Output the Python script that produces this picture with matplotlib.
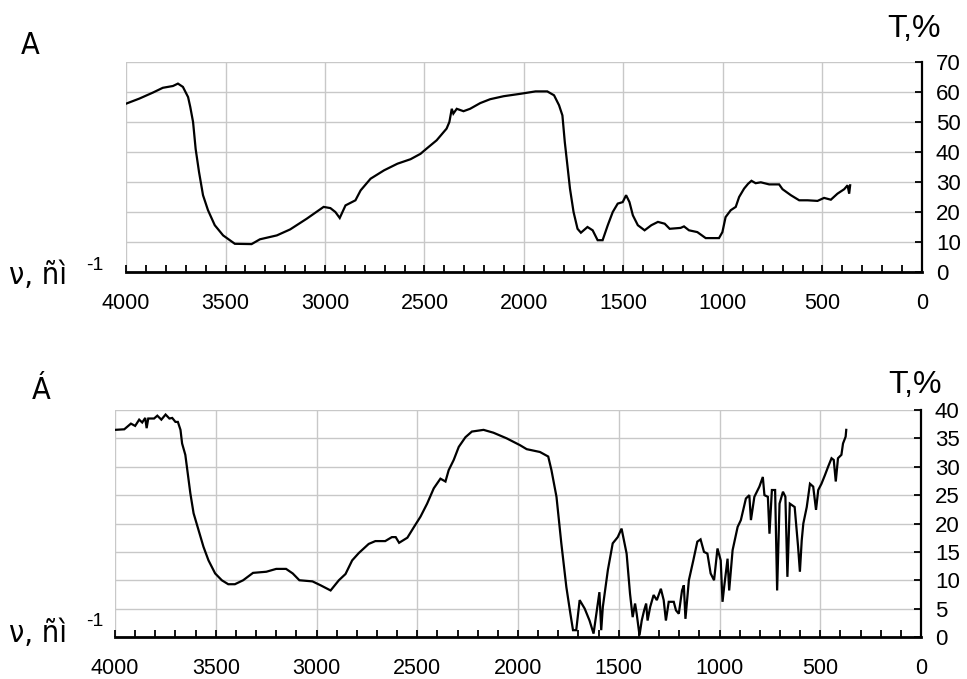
"""
Two IR transmission spectra (A, Á) stacked, wavenumber axis reversed.
"""
import matplotlib
matplotlib.use("Agg")
import matplotlib.pyplot as plt
from matplotlib import font_manager as fm
from matplotlib.ticker import MultipleLocator

# spectrum A (top)
wn_a = [4000, 3933, 3865, 3815, 3764, 3739, 3714, 3688, 3677, 3663,
        3650, 3633, 3613, 3588, 3554, 3512, 3453, 3369, 3327, 3242,
        3175, 3091, 3007, 2973, 2948, 2926, 2897, 2847, 2821, 2771,
        2703, 2636, 2570, 2520, 2490, 2439, 2389, 2375, 2363, 2355,
        2338, 2304, 2271, 2220, 2170, 2102, 2018, 1942, 1883, 1849,
        1824, 1807, 1795, 1782, 1769, 1751, 1731, 1714, 1681, 1655,
        1630, 1605, 1579, 1554, 1529, 1504, 1487, 1470, 1453, 1428,
        1394, 1360, 1327, 1293, 1268, 1213, 1196, 1171, 1129, 1087,
        1020, 1003, 987, 961, 936, 919, 894, 874, 857, 836,
        810, 768, 718, 701, 659, 617, 575, 525, 492, 458,
        425, 391, 374, 366, 361]
t_a = [56.1, 57.8, 59.8, 61.4, 62.0, 62.8, 61.7, 58.3, 55.0, 50.0,
       41.0, 33.3, 25.6, 20.6, 15.6, 12.2, 9.4, 9.3, 10.9, 12.2,
       14.2, 17.8, 21.7, 21.3, 20.0, 18.0, 22.2, 23.9, 27.2, 31.1,
       33.9, 36.1, 37.6, 39.4, 41.1, 43.9, 47.8, 50.0, 54.4, 52.8,
       54.4, 53.6, 54.4, 56.3, 57.6, 58.6, 59.4, 60.2, 60.2, 58.9,
       55.6, 52.2, 43.3, 35.6, 27.8, 20.0, 14.4, 13.1, 15.0, 13.9,
       10.6, 10.6, 15.6, 20.0, 22.8, 23.3, 25.6, 23.3, 18.9, 15.6,
       13.9, 15.6, 16.7, 16.1, 14.4, 14.7, 15.2, 13.9, 13.3, 11.3,
       11.3, 13.3, 18.3, 20.6, 21.7, 25.0, 27.8, 29.4, 30.4, 29.6,
       29.9, 29.2, 29.2, 27.6, 25.6, 23.9, 23.9, 23.7, 24.7, 24.1,
       26.1, 27.6, 28.9, 26.1, 28.9]

# spectrum Á (bottom)
wn_b = [4000, 3954, 3921, 3900, 3880, 3865, 3850, 3843, 3835, 3806,
        3790, 3770, 3749, 3730, 3716, 3700, 3688, 3675, 3667, 3651,
        3639, 3626, 3610, 3585, 3561, 3536, 3503, 3470, 3438, 3405,
        3364, 3315, 3249, 3200, 3151, 3118, 3085, 3020, 2979, 2930,
        2889, 2856, 2823, 2790, 2741, 2708, 2659, 2626, 2607, 2590,
        2549, 2516, 2484, 2451, 2418, 2385, 2360, 2344, 2319, 2294,
        2261, 2229, 2171, 2122, 2056, 1990, 1957, 1891, 1850, 1834,
        1809, 1785, 1760, 1740, 1727, 1711, 1694, 1669, 1645, 1625,
        1604, 1596, 1587, 1579, 1554, 1530, 1505, 1486, 1461, 1444,
        1431, 1419, 1411, 1397, 1386, 1374, 1364, 1357, 1344, 1327,
        1311, 1291, 1277, 1266, 1252, 1227, 1216, 1202, 1186, 1177,
        1169, 1152, 1130, 1110, 1094, 1077, 1060, 1044, 1027, 1010,
        994, 985, 977, 960, 952, 935, 910, 894, 869, 852,
        844, 827, 802, 785, 777, 760, 752, 740, 724, 714,
        702, 685, 673, 663, 651, 627, 610, 601, 592, 584,
        567, 551, 535, 521, 510, 494, 477, 461, 444, 433,
        423, 412, 395, 387, 374, 371]
t_b = [36.5, 36.6, 37.6, 37.2, 38.3, 37.8, 38.6, 36.8, 38.5, 38.5,
       39.0, 38.3, 39.2, 38.5, 38.6, 37.9, 37.9, 36.5, 34.1, 32.1,
       28.8, 25.3, 21.8, 18.8, 15.9, 13.5, 11.2, 10.0, 9.3, 9.3,
       10.0, 11.3, 11.5, 12.0, 12.0, 11.2, 10.0, 9.8, 9.1, 8.2,
       10.0, 11.1, 13.5, 14.8, 16.4, 16.9, 16.9, 17.6, 17.6, 16.6,
       17.5, 19.4, 21.2, 23.5, 26.2, 27.9, 27.4, 29.4, 31.2, 33.5,
       35.2, 36.2, 36.5, 36.0, 35.0, 33.8, 33.1, 32.6, 31.8, 29.4,
       24.7, 16.5, 8.8, 4.1, 1.2, 1.2, 6.5, 5.0, 2.9, 0.6,
       5.9, 7.9, 1.2, 5.3, 11.8, 16.5, 17.6, 19.1, 14.7, 7.6,
       3.5, 5.9, 4.1, 0.3, 2.9, 4.7, 5.9, 2.9, 5.3, 7.4,
       6.5, 8.5, 6.5, 2.9, 6.2, 6.2, 4.7, 4.1, 8.2, 9.1,
       3.2, 10.0, 13.5, 16.8, 17.2, 15.0, 14.7, 11.2, 10.0, 15.6,
       13.5, 6.2, 8.8, 13.8, 8.2, 15.3, 19.4, 20.6, 24.4, 25.0,
       20.6, 24.7, 26.5, 28.2, 25.0, 24.7, 18.2, 25.9, 25.9, 8.2,
       23.5, 25.6, 24.7, 10.6, 23.5, 22.9, 15.9, 11.5, 17.0, 20.0,
       22.9, 27.0, 26.5, 22.4, 25.9, 27.0, 28.5, 30.0, 31.5, 31.2,
       27.4, 31.5, 32.1, 34.1, 35.3, 36.5]

x_ticks = [4000, 3500, 3000, 2500, 2000, 1500, 1000, 500, 0]
y_ticks_a = [0, 10, 20, 30, 40, 50, 60, 70]
y_ticks_b = [0, 5, 10, 15, 20, 25, 30, 35, 40]

names = {f.name for f in fm.fontManager.ttflist}
if "Liberation Sans Narrow" in names:
    narrow = dict(family=["Liberation Sans Narrow", "DejaVu Sans"])
else:
    narrow = dict(family=["DejaVu Sans"], stretch="condensed")
plt.rcParams["font.family"] = ["Liberation Sans", "DejaVu Sans"]

W, H = 967, 679
fig = plt.figure(figsize=(W / 100, H / 100), dpi=100)


def px_box(left, top, right, bottom):
    return [left / W, 1 - bottom / H, (right - left) / W, (bottom - top) / H]


def draw_panel(ax, wn, t, yticks):
    ax.plot(wn, t, color="black", lw=1.6, solid_joinstyle="miter")
    ax.set_xlim(4000, 0)
    ax.set_ylim(yticks[0], yticks[-1])
    ax.set_xticks(x_ticks)
    ax.xaxis.set_minor_locator(MultipleLocator(100))
    ax.set_yticks(yticks)
    ax.yaxis.tick_right()
    ax.grid(True, which="major", color="#c8c8c8", lw=1.0)
    ax.set_axisbelow(True)
    for side in ("left", "top"):
        ax.spines[side].set_visible(False)
    ax.spines["bottom"].set_linewidth(2.0)
    ax.spines["right"].set_linewidth(1.6)
    ax.tick_params(axis="x", which="both", direction="in", length=5,
                   width=1.3, pad=15, labelsize=15.5)
    ax.tick_params(axis="y", which="major", direction="in", length=5,
                   width=1.3, pad=10, labelsize=16)


ax_a = fig.add_axes(px_box(126, 62, 922, 272))
draw_panel(ax_a, wn_a, t_a, y_ticks_a)
ax_b = fig.add_axes(px_box(115, 410, 921, 637))
draw_panel(ax_b, wn_b, t_b, y_ticks_b)


def ftext(x, y, s, **kw):
    fig.text(x / W, 1 - y / H, s, ha="center", va="center", **kw)


ftext(30, 46, "A", fontsize=22, **narrow)
ftext(41, 391, "Á", fontsize=22, **narrow)
for yv, ys in ((276, 266), (633, 622)):
    ftext(38, yv, "ν, ñì", fontsize=22, **narrow)
    ftext(95, ys, "-1", fontsize=14)
ftext(914, 29, "T,%", fontsize=23)
ftext(915, 385, "T,%", fontsize=23)

fig.savefig("out.png", dpi=100)
